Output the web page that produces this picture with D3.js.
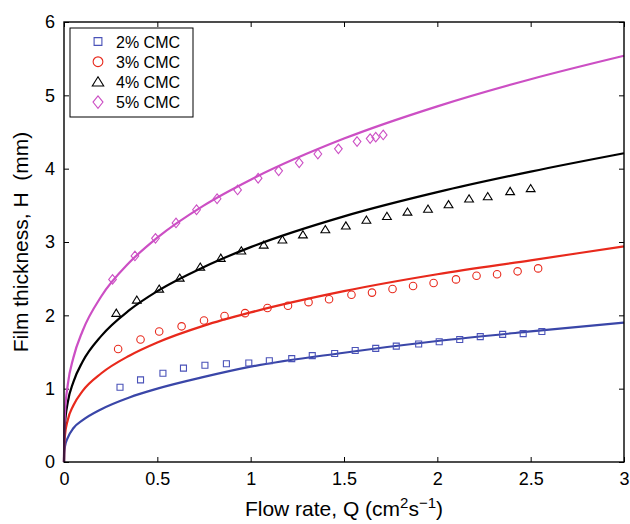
<!DOCTYPE html>
<html>
<head>
<meta charset="utf-8">
<script src="https://cdnjs.cloudflare.com/ajax/libs/d3/7.8.5/d3.min.js"></script>
<style>
  body { margin: 0; background: #fff; }
  text { font-family: "Liberation Sans", Arial, Helvetica, sans-serif; fill: #000; }
</style>
</head>
<body>
<svg id="chart" width="630" height="524"></svg>
<script>
// measured points (Q in cm^2/s, H in mm)
const seriesNames = ['2% CMC', '3% CMC', '4% CMC', '5% CMC'];

const q2 = [0.30, 0.41, 0.53, 0.64, 0.755, 0.87, 0.99, 1.10, 1.22, 1.33, 1.45, 1.56, 1.67, 1.78, 1.90, 2.01, 2.12, 2.23, 2.35, 2.46, 2.56];
const h2 = [1.02, 1.12, 1.21, 1.28, 1.32, 1.34, 1.35, 1.38, 1.41, 1.45, 1.48, 1.52, 1.55, 1.58, 1.61, 1.64, 1.67, 1.71, 1.74, 1.75, 1.78];

const q3 = [0.29, 0.41, 0.51, 0.63, 0.75, 0.86, 0.97, 1.09, 1.20, 1.31, 1.42, 1.54, 1.65, 1.76, 1.87, 1.98, 2.10, 2.21, 2.32, 2.43, 2.54];
const h3 = [1.54, 1.67, 1.78, 1.85, 1.93, 1.99, 2.03, 2.10, 2.13, 2.18, 2.22, 2.28, 2.31, 2.36, 2.40, 2.44, 2.49, 2.54, 2.56, 2.60, 2.64];

const q4 = [0.28, 0.39, 0.51, 0.62, 0.73, 0.84, 0.95, 1.07, 1.17, 1.28, 1.40, 1.51, 1.62, 1.73, 1.84, 1.95, 2.06, 2.17, 2.27, 2.39, 2.50];
const h4 = [2.03, 2.21, 2.36, 2.51, 2.66, 2.78, 2.88, 2.96, 3.03, 3.10, 3.17, 3.22, 3.30, 3.35, 3.41, 3.45, 3.51, 3.59, 3.62, 3.69, 3.73];

const q5 = [0.26, 0.38, 0.49, 0.60, 0.71, 0.82, 0.93, 1.04, 1.15, 1.26, 1.36, 1.47, 1.57, 1.64, 1.67, 1.71];
const h5 = [2.49, 2.81, 3.05, 3.26, 3.44, 3.59, 3.71, 3.87, 3.97, 4.08, 4.20, 4.27, 4.37, 4.41, 4.43, 4.46];

// fitted curves
const fitQ = [0, 0.001, 0.005, 0.02, 0.05, 0.1, 0.2, 0.35, 0.5, 0.75, 1, 1.5, 2, 2.5, 3];
const fit2 = [0, 0.12, 0.21, 0.33, 0.46, 0.57, 0.72, 0.88, 1.00, 1.16, 1.30, 1.49, 1.65, 1.78, 1.90];
const fit3 = [0, 0.22, 0.36, 0.57, 0.77, 0.97, 1.21, 1.45, 1.63, 1.86, 2.04, 2.33, 2.56, 2.75, 2.94];
const fit4 = [0, 0.30, 0.51, 0.81, 1.09, 1.37, 1.72, 2.07, 2.33, 2.66, 2.93, 3.35, 3.68, 3.96, 4.21];
const fit5 = [0, 0.39, 0.66, 1.05, 1.42, 1.79, 2.26, 2.72, 3.06, 3.50, 3.85, 4.41, 4.85, 5.22, 5.54];

const xTicks = [0, 0.5, 1, 1.5, 2, 2.5, 3];
const yTicks = [0, 1, 2, 3, 4, 5, 6];

const lineColors = ['#3a46a8', '#e8291c', '#000000', '#cc4fc4'];
const markerColors = ['#4a52b8', '#e8291c', '#000000', '#cc4fc4'];
const markerTypes = ['square', 'circle', 'triangle', 'diamond'];

let margin = {top: 22, right: 6, bottom: 62, left: 64};
let width = 630 - margin.left - margin.right;
let height = 524 - margin.top - margin.bottom;

let svg = d3.select('#chart');
let g = svg.append('g')
  .attr('transform', `translate(${margin.left},${margin.top})`);

let x = d3.scaleLinear().domain([0, 3]).range([0, width]);
let y = d3.scaleLinear().domain([0, 6]).range([height, 0]);

// marker shapes, s = nominal size in px
function markerPath(type, s){
  let h = s / 2;
  if (type == 'square') return `M${-h},${-h}H${h}V${h}H${-h}Z`;
  if (type == 'circle') return `M${h},0A${h},${h} 0 1,1 ${-h},0A${h},${h} 0 1,1 ${h},0Z`;
  if (type == 'triangle') return `M0,${-s*0.5}L${s*0.55},${s*0.4}H${-s*0.55}Z`;
  return `M0,${-s*0.6}L${s*0.48},0L0,${s*0.6}L${-s*0.48},0Z`;
}
let markerSize = [6, 7.5, 8, 8];

// axes with inward ticks
let xAxis = d3.axisBottom(x).tickValues(xTicks).tickSizeInner(-5).tickSizeOuter(0).tickPadding(10)
  .tickFormat(d3.format('~g'));
let yAxis = d3.axisLeft(y).tickValues(yTicks).tickSizeInner(-5).tickSizeOuter(0).tickPadding(9)
  .tickFormat(d3.format('d'));

let gx = g.append('g').attr('transform', `translate(0,${height})`).call(xAxis);
let gy = g.append('g').call(yAxis);
g.append('g').call(d3.axisTop(x).tickValues(xTicks).tickSizeInner(-5).tickSizeOuter(0).tickFormat(''));
g.append('g').attr('transform', `translate(${width},0)`)
  .call(d3.axisRight(y).tickValues(yTicks).tickSizeInner(-5).tickSizeOuter(0).tickFormat(''));

g.selectAll('.domain').remove();
g.selectAll('.tick line').attr('stroke', '#000').attr('stroke-width', 1);
gx.selectAll('text').style('font-size', '18px').attr('dy', '0.71em');
gy.selectAll('text').style('font-size', '18px');

// fitted curves
let line = d3.line()
  .x(d => x(d[0]))
  .y(d => y(d[1]))
  .curve(d3.curveMonotoneX);

[fit2, fit3, fit4, fit5].forEach((fit, i) => {
  g.append('path')
    .datum(fitQ.map((q, j) => [q, fit[j]]))
    .attr('d', line)
    .attr('fill', 'none')
    .attr('stroke', lineColors[i])
    .attr('stroke-width', 2.2);
});

// measured data
[[q2, h2], [q3, h3], [q4, h4], [q5, h5]].forEach((s, i) => {
  g.append('g')
    .selectAll('path')
    .data(s[0].map((q, j) => [q, s[1][j]]))
    .enter()
    .append('path')
    .attr('transform', d => `translate(${x(d[0])},${y(d[1])})`)
    .attr('d', markerPath(markerTypes[i], markerSize[i]))
    .attr('fill', 'none')
    .attr('stroke', markerColors[i])
    .attr('stroke-width', 1.1);
});

// frame
g.append('rect')
  .attr('width', width)
  .attr('height', height)
  .attr('fill', 'none')
  .attr('stroke', '#000')
  .attr('stroke-width', 1.4);

// legend
let legend = g.append('g').attr('transform', 'translate(6,6)');
legend.append('rect')
  .attr('width', 123)
  .attr('height', 89)
  .attr('fill', '#fff')
  .attr('stroke', '#000')
  .attr('stroke-width', 1);

seriesNames.forEach((name, i) => {
  let row = legend.append('g').attr('transform', `translate(28,${13.5 + i * 20.2})`);
  row.append('path')
    .attr('d', markerPath(markerTypes[i], markerSize[i] * 1.3))
    .attr('fill', 'none')
    .attr('stroke', markerColors[i])
    .attr('stroke-width', 1.1);
  row.append('text')
    .attr('x', 18)
    .attr('y', 6)
    .style('font-size', '16px')
    .text(name);
});

// axis titles
let xt = svg.append('text')
  .attr('x', margin.left + width / 2)
  .attr('y', 516)
  .attr('text-anchor', 'middle')
  .style('font-size', '21px');
xt.append('tspan').text('Flow rate, Q (cm');
xt.append('tspan').attr('dy', -8).style('font-size', '15px').text('2');
xt.append('tspan').attr('dy', 8).text('s');
xt.append('tspan').attr('dy', -8).style('font-size', '15px').text('\u22121');
xt.append('tspan').attr('dy', 8).text(')');

svg.append('text')
  .attr('transform', `translate(28,${margin.top + height / 2}) rotate(-90)`)
  .attr('text-anchor', 'middle')
  .style('font-size', '21px')
  .style('white-space', 'pre')
  .text('Film thickness, H  (mm)');
</script>
</body>
</html>
